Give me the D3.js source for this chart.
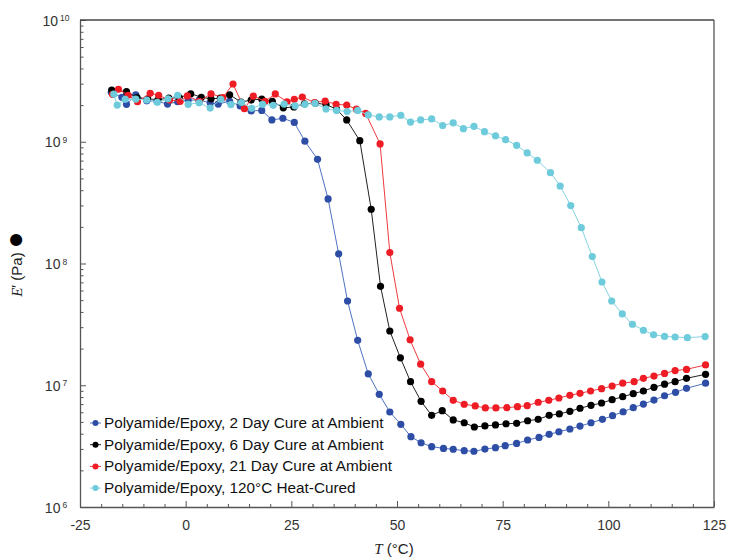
<!DOCTYPE html>
<html>
<head>
<meta charset="utf-8">
<script src="https://cdn.jsdelivr.net/npm/d3@7"></script>
<style>
  html, body { margin: 0; padding: 0; background: #ffffff; }
  svg { display: block; font-family: "Liberation Sans", Arial, sans-serif; }
</style>
</head>
<body>
<svg id="chart" width="730" height="558"></svg>
<script>
// Storage modulus E' (Pa) versus temperature T (°C) for four cure conditions
const seriesLabels = [
  "Polyamide/Epoxy, 2 Day Cure at Ambient",
  "Polyamide/Epoxy, 6 Day Cure at Ambient",
  "Polyamide/Epoxy, 21 Day Cure at Ambient",
  "Polyamide/Epoxy, 120°C Heat-Cured"
];
const dotColors  = ["#2e4ea6", "#000000", "#ee1d25", "#6dcbdb"];
const lineColors = ["#4f72c4", "#222222", "#f03a3f", "#86d3e0"];

const temp2Day = [-17.6, -15.1, -14.0, -11.8, -9.2, -6.8, -4.3, -1.9, 0.6, 3.2, 5.8, 7.7, 10.4, 12.9,
  15.5, 18.0, 20.4, 23.0, 25.7, 28.2, 31.2, 33.7, 36.2, 38.3, 40.7, 43.2, 45.8, 48.3, 50.9, 53.3,
  55.7, 58.2, 61.0, 63.3, 65.9, 68.2, 70.8, 73.3, 75.6, 78.3, 80.9, 83.6, 86.0, 88.3, 90.9, 93.3,
  95.9, 98.6, 101.0, 103.5, 105.9, 108.3, 110.8, 113.3, 115.9, 118.5, 123.0];
const mod2Day = [2.55e9, 2.32e9, 2.03e9, 2.43e9, 2.17e9, 2.15e9, 2.04e9, 2.13e9, 2.20e9, 2.20e9, 2.09e9, 2.04e9, 2.15e9, 1.97e9,
  1.79e9, 1.81e9, 1.51e9, 1.56e9, 1.44e9, 1.01e9, 7.17e8, 3.39e8, 1.20e8, 4.92e7, 2.34e7, 1.24e7, 8.43e6, 6.03e6, 4.78e6, 3.78e6,
  3.37e6, 3.13e6, 3.03e6, 2.98e6, 2.90e6, 2.87e6, 2.99e6, 3.07e6, 3.19e6, 3.33e6, 3.55e6, 3.73e6, 3.95e6, 4.15e6, 4.37e6, 4.62e6,
  4.92e6, 5.25e6, 5.62e6, 6.06e6, 6.54e6, 7.01e6, 7.56e6, 8.20e6, 8.75e6, 9.44e6, 1.04e7];

const temp6Day = [-17.5, -14.0, -11.5, -9.0, -6.5, -4.0, -1.5, 1.2, 3.7, 6.0, 8.2, 10.4, 13.1, 15.5,
  18.0, 20.5, 23.1, 25.6, 28.1, 30.7, 33.2, 35.7, 38.1, 41.2, 43.9, 46.1, 48.3, 50.8, 53.2, 55.7,
  58.2, 60.7, 63.3, 65.9, 68.3, 70.8, 73.3, 75.8, 78.3, 80.9, 83.4, 86.0, 88.4, 90.9, 93.3, 95.9,
  98.4, 100.9, 103.4, 105.9, 108.3, 110.8, 113.3, 115.8, 118.5, 123.0];
const mod6Day = [2.66e9, 2.58e9, 2.30e9, 2.25e9, 2.22e9, 2.28e9, 2.30e9, 2.48e9, 2.32e9, 2.25e9, 2.28e9, 2.43e9, 2.12e9, 2.20e9,
  2.24e9, 2.15e9, 1.90e9, 1.93e9, 2.05e9, 2.08e9, 2.02e9, 1.85e9, 1.51e9, 1.02e9, 2.79e8, 6.50e7, 2.79e7, 1.68e7, 1.07e7, 7.38e6,
  5.66e6, 6.18e6, 5.19e6, 4.92e6, 4.54e6, 4.63e6, 4.72e6, 4.83e6, 4.87e6, 5.11e6, 5.25e6, 5.66e6, 5.81e6, 6.11e6, 6.47e6, 6.84e6,
  7.15e6, 7.61e6, 8.05e6, 8.53e6, 8.97e6, 9.62e6, 1.02e7, 1.07e7, 1.14e7, 1.23e7];

const temp21Day = [-17.3, -15.9, -13.6, -11.4, -8.4, -6.4, -3.8, -1.3, 0.4, 3.2, 6.0, 8.8, 11.2, 13.9,
  16.0, 18.8, 21.2, 24.0, 25.7, 27.6, 30.5, 33.0, 35.6, 38.1, 40.4, 42.6, 46.0, 48.3, 50.6, 53.1,
  55.6, 58.2, 60.8, 63.3, 65.9, 68.5, 70.9, 73.4, 76.0, 78.5, 80.8, 83.4, 85.9, 88.3, 90.9, 93.3,
  95.8, 98.4, 100.9, 103.4, 106.1, 108.3, 110.8, 113.3, 115.8, 118.5, 123.0];
const mod21Day = [2.45e9, 2.70e9, 2.41e9, 2.13e9, 2.50e9, 2.41e9, 2.20e9, 2.15e9, 2.38e9, 2.15e9, 2.48e9, 2.31e9, 2.98e9, 1.87e9,
  2.37e9, 2.15e9, 2.47e9, 2.13e9, 2.23e9, 2.33e9, 2.10e9, 2.16e9, 2.03e9, 2.00e9, 1.85e9, 1.71e9, 9.59e8, 1.23e8, 4.29e7, 2.36e7,
  1.49e7, 1.07e7, 8.97e6, 7.52e6, 6.98e6, 6.76e6, 6.51e6, 6.51e6, 6.54e6, 6.67e6, 6.80e6, 7.25e6, 7.52e6, 7.86e6, 8.27e6, 8.59e6,
  8.97e6, 9.37e6, 9.86e6, 1.04e7, 1.07e7, 1.14e7, 1.19e7, 1.25e7, 1.32e7, 1.35e7, 1.47e7];

const tempHeat = [-17.0, -16.2, -14.3, -11.8, -9.2, -6.7, -4.2, -1.9, 0.6, 3.2, 5.8, 8.3, 10.7, 13.2,
  15.6, 18.2, 20.7, 23.3, 25.9, 28.2, 30.6, 33.2, 35.7, 38.2, 40.7, 43.2, 45.8, 48.3, 50.9, 53.2,
  55.6, 58.2, 60.8, 63.3, 65.7, 68.2, 70.7, 73.3, 75.7, 78.3, 80.8, 83.2, 86.3, 88.6, 91.1, 93.6,
  96.2, 98.5, 100.8, 103.3, 105.7, 108.3, 110.7, 113.3, 115.8, 118.7, 122.9];
const modHeat = [2.46e9, 2.00e9, 2.23e9, 2.24e9, 2.20e9, 2.11e9, 2.25e9, 2.41e9, 2.03e9, 2.09e9, 1.89e9, 2.23e9, 2.02e9, 2.10e9,
  1.88e9, 2.03e9, 1.99e9, 2.04e9, 1.97e9, 2.03e9, 2.07e9, 1.86e9, 1.81e9, 1.77e9, 1.81e9, 1.66e9, 1.60e9, 1.60e9, 1.65e9, 1.45e9,
  1.51e9, 1.54e9, 1.36e9, 1.43e9, 1.28e9, 1.34e9, 1.21e9, 1.12e9, 1.04e9, 9.35e8, 8.09e8, 7.05e8, 5.57e8, 4.33e8, 2.99e8, 1.97e8,
  1.14e8, 7.05e7, 4.92e7, 3.85e7, 3.17e7, 2.83e7, 2.60e7, 2.52e7, 2.49e7, 2.46e7, 2.51e7];

const xTickValues = [-25, 0, 25, 50, 75, 100, 125];
const xTickLabels = ["-25", "0", "25", "50", "75", "100", "125"];
const yDecades = [6, 7, 8, 9, 10];

const seriesTemps = [temp2Day, temp6Day, temp21Day, tempHeat];
const seriesMods  = [mod2Day, mod6Day, mod21Day, modHeat];

const svg = d3.select("#chart");
const plot = { left: 80, right: 714, top: 20, bottom: 507 };
const axisColor = "#555555";

const x = d3.scaleLinear().domain([-25, 125]).range([plot.left, plot.right]);
const y = d3.scaleLog().domain([1e6, 1e10]).range([plot.bottom, plot.top]);

// Bottom axis: major ticks every 25, minor ticks every 5, all pointing inward
const minorX = d3.range(-25, 126, 5).filter(v => !xTickValues.includes(v));
svg.append("g")
  .attr("transform", `translate(0,${plot.bottom})`)
  .call(d3.axisBottom(x).tickValues(minorX).tickSizeInner(-3).tickSizeOuter(0).tickFormat(""))
  .call(g => g.select(".domain").remove())
  .call(g => g.selectAll("line").attr("stroke", axisColor));
const xAxis = svg.append("g")
  .attr("transform", `translate(0,${plot.bottom})`)
  .call(d3.axisBottom(x).tickValues(xTickValues).tickSizeInner(-6).tickSizeOuter(0).tickPadding(13)
    .tickFormat((d, i) => xTickLabels[i]));
xAxis.select(".domain").attr("stroke", axisColor).attr("stroke-width", 1.3);
xAxis.selectAll("line").attr("stroke", axisColor);
xAxis.selectAll("text").attr("fill", "#333").style("font-size", "14px")
  .style("font-family", '"Liberation Sans", Arial, sans-serif');

// Left axis: decade ticks plus minor ticks at 2..9 inside each decade
const minorY = [];
yDecades.slice(0, -1).forEach(p => { for (let k = 2; k <= 9; k++) minorY.push(k * Math.pow(10, p)); });
svg.append("g")
  .attr("transform", `translate(${plot.left},0)`)
  .call(d3.axisLeft(y).tickValues(minorY).tickSizeInner(-3.5).tickSizeOuter(0).tickFormat(""))
  .call(g => g.select(".domain").remove())
  .call(g => g.selectAll("line").attr("stroke", axisColor));
const yAxis = svg.append("g")
  .attr("transform", `translate(${plot.left},0)`)
  .call(d3.axisLeft(y).tickValues(yDecades.map(p => Math.pow(10, p))).tickSizeInner(-6).tickSizeOuter(0).tickFormat(""));
yAxis.select(".domain").attr("stroke", axisColor).attr("stroke-width", 1.3);
yAxis.selectAll("line").attr("stroke", axisColor);

// Power-of-ten labels with superscript exponents
const yLabels = svg.append("g").attr("fill", "#333").style("font-size", "14px");
yDecades.forEach(p => {
  const t = yLabels.append("text")
    .attr("x", 56).attr("y", y(Math.pow(10, p)) + 5.5)
    .attr("text-anchor", "middle");
  t.append("tspan").text("10");
  t.append("tspan").attr("dx", 2).attr("dy", -4.5).style("font-size", "8.5px").text(String(p));
});

// Top and right frame
svg.append("line").attr("x1", plot.left).attr("x2", plot.right).attr("y1", plot.top).attr("y2", plot.top)
  .attr("stroke", "#444").attr("stroke-width", 1.3);
svg.append("line").attr("x1", plot.right).attr("x2", plot.right).attr("y1", plot.top).attr("y2", plot.bottom)
  .attr("stroke", axisColor).attr("stroke-width", 1.3);

// Series: thin connecting line with round markers
const line = d3.line().x(d => x(d.t)).y(d => y(d.e));
seriesTemps.forEach((temps, i) => {
  const pts = temps.map((t, j) => ({ t: t, e: seriesMods[i][j] }));
  const g = svg.append("g");
  g.append("path").datum(pts)
    .attr("d", line).attr("fill", "none")
    .attr("stroke", lineColors[i]).attr("stroke-width", 1);
  g.selectAll("circle").data(pts).join("circle")
    .attr("cx", d => x(d.t)).attr("cy", d => y(d.e))
    .attr("r", 3.6).attr("fill", dotColors[i]);
});

// Legend
const legend = svg.append("g").attr("transform", "translate(0,423)");
seriesLabels.forEach((label, i) => {
  const row = legend.append("g").attr("transform", `translate(0,${i * 21.7})`);
  row.append("line").attr("x1", 90).attr("x2", 101).attr("y1", 0).attr("y2", 0)
    .attr("stroke", lineColors[i]).attr("stroke-width", 1);
  row.append("circle").attr("cx", 95.5).attr("cy", 0).attr("r", 3).attr("fill", dotColors[i]);
  row.append("text").attr("x", 104).attr("y", 5).attr("fill", "#111")
    .style("font-size", "15.3px").text(label);
});

// Axis titles
const xTitle = svg.append("text").attr("x", 394).attr("y", 553.5).attr("text-anchor", "middle")
  .attr("fill", "#222").style("font-size", "15px");
xTitle.append("tspan").style("font-family", '"Liberation Serif", "Times New Roman", serif')
  .style("font-style", "italic").text("T");
xTitle.append("tspan").text(" (°C)");

const yTitle = svg.append("text")
  .attr("transform", "translate(22,264) rotate(-90)")
  .attr("text-anchor", "middle").attr("fill", "#222").style("font-size", "15px");
yTitle.append("tspan").style("font-family", '"Liberation Serif", "Times New Roman", serif')
  .style("font-style", "italic").text("E");
yTitle.append("tspan").text("′ (Pa) ");
yTitle.append("tspan").attr("fill", "#000").style("font-size", "28px").attr("dy", 2).text("●");
</script>
</body>
</html>
